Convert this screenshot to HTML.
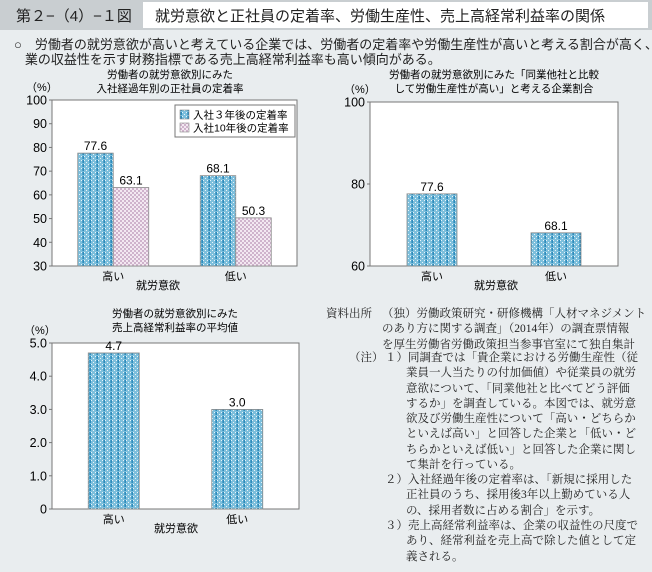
<!DOCTYPE html>
<html><head><meta charset="utf-8">
<style>
body{margin:0;width:652px;height:572px;background:#e9edef;font-family:"Liberation Sans","Noto Sans CJK JP",sans-serif;color:#222;position:relative;overflow:hidden}
.abs{position:absolute;white-space:nowrap}
#hdr{left:0;top:0;width:652px;height:30px;background:#c9ced1}
#num{left:16px;top:5px;font-size:15px;}
#ttl{left:143px;top:2px;width:505px;height:26px;background:#fff}
#ttl span{position:absolute;left:12px;top:3px;font-size:15px}
.lead{font-size:13px;line-height:15px}
.note{font-size:11.5px;color:#222;font-family:"Liberation Serif","Noto Serif CJK SC",serif}
.note div{height:15.3px;line-height:15.3px;overflow:visible}
.note .in{padding-left:21px}
svg text{font-family:"Liberation Sans","Noto Sans CJK JP",sans-serif}
</style></head><body>
<div class="abs" id="hdr"></div>
<div class="abs" id="num">第２−（4）−１図</div>
<div class="abs" id="ttl"><span>就労意欲と正社員の定着率、労働生産性、売上高経常利益率の関係</span></div>
<div class="abs lead" style="left:14px;top:37px">○　労働者の就労意欲が高いと考えている企業では、労働者の定着率や労働生産性が高いと考える割合が高く、企<br>&nbsp;&nbsp;&nbsp;業の収益性を示す財務指標である売上高経常利益率も高い傾向がある。</div>

<svg class="abs" style="left:0;top:0" width="652" height="572">
<defs>
<pattern id="pb" width="7" height="4" patternUnits="userSpaceOnUse">
<rect width="7" height="4" fill="#7dbfdc"/>
<rect x="0" y="0" width="1" height="1" fill="#e8f4fa"/><rect x="2" y="2" width="1" height="1" fill="#e8f4fa"/><rect x="4" y="0" width="1" height="1" fill="#e8f4fa"/>
<rect x="5.5" y="0" width="1.3" height="3" fill="#1a7fb5"/>
</pattern>
<pattern id="pp" width="4" height="4" patternUnits="userSpaceOnUse">
<rect width="4" height="4" fill="#f3e8f1"/><rect width="2" height="2" fill="#cfb3cc"/><rect x="2" y="2" width="2" height="2" fill="#cfb3cc"/>
</pattern>
</defs>
<g id="g1"></g><g id="g2"></g><g id="g3"></g>
</svg>

<div class="abs note" style="left:326px;top:307px"><div>資料出所</div></div>
<div class="abs note" style="left:382px;top:307px"><div>（独）労働政策研究・研修機構「人材マネジメント</div><div>のあり方に関する調査」（2014年）の調査票情報</div><div>を厚生労働省労働政策担当参事官室にて独自集計</div></div>
<div class="abs note" style="left:349px;top:351px"><div>（注）</div></div>
<div class="abs note" style="left:385px;top:351px"><div>１）同調査では「貴企業における労働生産性（従</div><div class="in">業員一人当たりの付加価値）や従業員の就労</div><div class="in">意欲について、「同業他社と比べてどう評価</div><div class="in">するか」を調査している。本図では、就労意</div><div class="in">欲及び労働生産性について「高い・どちらか</div><div class="in">といえば高い」と回答した企業と「低い・ど</div><div class="in">ちらかといえば低い」と回答した企業に関し</div><div class="in">て集計を行っている。</div></div>
<div class="abs note" style="left:385px;top:473px"><div>２）入社経過年後の定着率は、「新規に採用した</div><div class="in">正社員のうち、採用後3年以上勤めている人</div><div class="in">の、採用者数に占める割合」を示す。</div></div>
<div class="abs note" style="left:385px;top:519px"><div>３）売上高経常利益率は、企業の収益性の尺度で</div><div class="in">あり、経常利益を売上高で除した値として定</div><div class="in">義される。</div></div>

<script>
const categories = ["高い","低い"];
const c1Series3yr = [77.6, 68.1];
const c1Series10yr = [63.1, 50.3];
const c1Ticks = [30,40,50,60,70,80,90,100];
const c2Values = [77.6, 68.1];
const c2Ticks = [60,80,100];
const c3Values = [4.7, 3.0];
const c3Ticks = [0,1,2,3,4,5];
const c3TickLabels = ["0","1.0","2.0","3.0","4.0","5.0"];

const NS="http://www.w3.org/2000/svg";
function mk(parent,tag,attrs,text){const e=document.createElementNS(NS,tag);for(const k in attrs)e.setAttribute(k,attrs[k]);if(text!==undefined)e.textContent=text;parent.appendChild(e);return e;}

function chart(gid,o){
  const g=document.getElementById(gid);
  const y=v=>o.bottom-(v-o.min)/(o.max-o.min)*(o.bottom-o.top);
  const frame=mk(g,'rect',{x:o.left,y:o.top,width:o.right-o.left,height:o.bottom-o.top,fill:'#fff',stroke:'#777','stroke-width':1});
  
  
  o.ticks.forEach((t,i)=>{
    const yy=y(t);
    mk(g,'line',{x1:o.left-3,x2:o.left,y1:yy,y2:yy,stroke:'#777'});
    const tl=mk(g,'text',{x:o.left-5,y:yy+4.5,'text-anchor':'end','font-size':12.5},o.tickLabels?o.tickLabels[i]:t);
    
    
  });
  const w=(o.right-o.left)/categories.length;
  categories.forEach((c,i)=>{
    const cx=o.left+w*(i+0.5)+o.catShift;
    const cl=mk(g,'text',{x:cx,y:o.bottom+14,'text-anchor':'middle','font-size':11},c);
    
    
    o.series.forEach((s,j)=>{
      const x0=cx+o.offsets[j];
      const top=y(s.data[i]);
      const b=mk(g,'rect',{x:x0,y:top,width:o.bw,height:o.bottom-top,fill:s.fill,stroke:'#8a8a8a','stroke-width':0.8});
      
      
      const v=mk(g,'text',{x:x0+o.bw/2,y:top-3,'text-anchor':'middle','font-size':12},s.data[i].toFixed(1));
      
      
    });
  });
  const xt=mk(g,'text',{x:o.xTitleX,y:o.bottom+23,'text-anchor':'middle','font-size':11},'就労意欲');
  
  
  const pu=mk(g,'text',{x:o.unitX,y:o.top-9,'font-size':11},'（%）');
  
  
  o.title.forEach((t,i)=>{
    const tt=mk(g,'text',{x:o.titleX,y:o.titleY+i*14,'text-anchor':'middle','font-size':10.5},t);
    
    
  });
}

chart('g1',{left:52,right:297,top:100,bottom:266,min:30,max:100,ticks:c1Ticks,bw:35.5,catShift:0,offsets:[-35.5,0],
  series:[{name:'3yr',data:c1Series3yr,fill:'url(#pb)'},{name:'10yr',data:c1Series10yr,fill:'url(#pp)'}],
  xTitleX:158,unitX:26,title:["労働者の就労意欲別にみた","入社経過年別の正社員の定着率"],titleX:170,titleY:78});
chart('g2',{left:370,right:618,top:102,bottom:266,min:60,max:100,ticks:c2Ticks,bw:50,catShift:0,offsets:[-25],
  series:[{name:'productivity',data:c2Values,fill:'url(#pb)'}],
  xTitleX:496,unitX:344,title:["労働者の就労意欲別にみた「同業他社と比較","して労働生産性が高い」と考える企業割合"],titleX:494,titleY:78});
chart('g3',{left:52,right:299,top:343,bottom:509,min:0,max:5,ticks:c3Ticks,tickLabels:c3TickLabels,bw:51,catShift:0,offsets:[-25.5],
  series:[{name:'profit',data:c3Values,fill:'url(#pb)'}],
  xTitleX:176,unitX:24,title:["労働者の就労意欲別にみた","売上高経常利益率の平均値"],titleX:175,titleY:317});

const g1=document.getElementById('g1');
const lg=mk(g1,'g',{});


mk(lg,'rect',{x:175,y:105,width:120,height:32,fill:'#fff',stroke:'#777'});
[["url(#pb)","入社３年後の定着率"],["url(#pp)","入社10年後の定着率"]].forEach((l,i)=>{
  const e=mk(lg,'g',{});
  
  
  mk(e,'rect',{x:180,y:110+i*13,width:9,height:9,fill:l[0],stroke:'#888','stroke-width':0.6});
  mk(e,'text',{x:193,y:118.5+i*13,'font-size':10.5},l[1]);
});
</script>
</body></html>
